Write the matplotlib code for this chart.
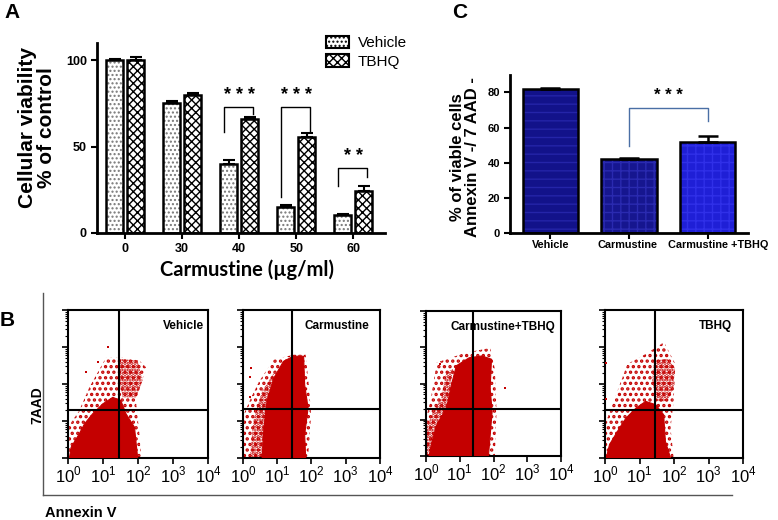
import numpy as np
import matplotlib
matplotlib.use("Agg")
import matplotlib.pyplot as plt
import matplotlib.transforms as mtransforms
from matplotlib.patches import Patch, Polygon
from matplotlib.lines import Line2D
from matplotlib.ticker import LogLocator, NullFormatter

plt.rcParams['font.family'] = ['Liberation Sans', 'DejaVu Sans']
plt.rcParams['mathtext.fontset'] = 'custom'
plt.rcParams['mathtext.rm'] = 'Liberation Sans'
plt.rcParams['hatch.linewidth'] = 1.0

# ---- panel A: viability (% of control) ----
doses = ['0', '30', '40', '50', '60']
veh = [100, 75.5, 40, 15, 10.5]
veh_err = [1, 1, 2, 1, 0.5]
tbhq = [100, 80, 66, 55.5, 24.5]
tbhq_err = [2, 1, 1, 2.5, 2.5]
# significance brackets: group, stars, top, left leg, right leg
sig_group = [2, 3, 4]
sig_text = ['* * *', '* * *', '* *']
sig_top = [73, 73, 37.5]
sig_left = [58.6, 21, 27]
sig_right = [69, 58.6, 32.7]

# ---- panel C: viable cells Annexin V-/7AAD- ----
c_groups = ['Vehicle', 'Carmustine', 'Carmustine +TBHQ']
viable = [82, 42, 52]
viable_err = [0.8, 0.5, 3]

# ---- panel B: flow plots, shapes of the dot clouds in decades (x, y) ----
b_titles = ['Vehicle', 'Carmustine', 'Carmustine+TBHQ', 'TBHQ']
gate_x = [1.47, 1.43, 1.39, 1.44]
gate_y = [1.30, 1.32, 1.30, 1.31]

veh_core = [(0.04, 0), (0.09, 0.29), (0.32, 0.65), (0.47, 0.92), (0.7, 1.19), (0.99, 1.46),
            (1.28, 1.64), (1.51, 1.55), (1.66, 1.19), (1.9, 0.83), (1.99, 0)]
veh_mid = [(1.47, 2.68), (1.99, 2.63), (2.13, 2.09), (1.94, 1.64), (1.56, 1.64), (1.47, 2.09)]
veh_sparse = [(0, 0), (0, 0.83), (0.32, 1.28), (0.61, 1.91), (1.09, 2.72), (1.56, 2.72), (2.04, 2.63),
              (2.23, 2.45), (2.09, 2.0), (1.94, 1.55), (2.04, 0.65), (2.09, 0)]
veh_out = [(0.5, 2.32), (1.13, 2.99), (0.85, 2.6)]

carm_core = [(0.56, 0), (0.61, 0.81), (0.7, 1.53), (0.9, 2.16), (1.18, 2.61), (1.47, 2.75),
             (1.77, 2.75), (1.8, 1.98), (1.9, 1.35), (1.8, 0.63), (1.83, 0)]
carm_mid = [(0.2, 0), (0.3, 1.0), (0.55, 1.8), (0.9, 2.3), (0.9, 1.5), (0.7, 0)]
carm_sparse = [(0.02, 0), (0.02, 1.17), (0.23, 1.62), (0.47, 2.07), (0.9, 2.66), (1.47, 2.79),
               (1.83, 2.79), (1.92, 1.98), (1.99, 1.17), (1.9, 0)]
carm_out = [(0.23, 2.43), (0.19, 1.65), (0.2, 2.2)]

combo_core = [(0.09, 0), (0.18, 0.41), (0.32, 0.86), (0.61, 1.32), (0.75, 1.95), (0.9, 2.49),
              (1.28, 2.71), (1.66, 2.76), (1.94, 2.67), (1.9, 1.86), (1.96, 1.23), (1.85, 0)]
combo_mid = [(0.02, 0), (0.02, 0.8), (0.2, 1.2), (0.45, 1.6), (0.6, 2.3), (0.8, 2.4), (0.6, 1.2), (0.2, 0.3)]
combo_sparse = [(0, 0), (0, 1.05), (0.13, 1.5), (0.32, 2.58), (1.18, 2.85), (1.9, 2.98),
                (2.04, 2.4), (2.09, 1.23), (2.04, 0)]
combo_out = [(2.34, 1.87), (0.4, 2.55)]

tb_core = [(0.04, 0), (0.13, 0.36), (0.42, 0.81), (0.61, 1.08), (0.9, 1.35), (1.18, 1.53),
           (1.47, 1.44), (1.7, 1.17), (1.75, 0.45), (1.9, 0)]
tb_mid = [(1.42, 2.63), (1.8, 2.68), (2.02, 2.45), (1.99, 1.91), (1.8, 1.53), (1.47, 1.53), (1.37, 2.09)]
tb_sparse = [(0, 0), (0, 0.9), (0.32, 1.71), (0.65, 2.54), (1.18, 2.81), (1.71, 3.13),
             (2.04, 2.54), (1.99, 1.53), (1.9, 0.81), (1.99, 0)]
tb_out = [(0.02, 2.56), (0.04, 1.59)]

clouds = [(veh_core, veh_mid, veh_sparse, veh_out),
          (carm_core, carm_mid, carm_sparse, carm_out),
          (combo_core, combo_mid, combo_sparse, combo_out),
          (tb_core, tb_mid, tb_sparse, tb_out)]

RED = '#c40000'

fig = plt.figure(figsize=(7.78, 5.2), dpi=100)

# ================= A =================
axA = fig.add_axes([0.125, 0.552, 0.37, 0.365])
x = np.arange(len(doses))
off, w = 0.185, 0.30
axA.bar(x - off, veh, w, color='white', edgecolor='#777777', hatch='....', linewidth=0, zorder=2)
axA.bar(x - off, veh, w, color='none', edgecolor='black', linewidth=1.8, zorder=3)
axA.bar(x + off, tbhq, w, color='white', edgecolor='black', hatch='xxxx', linewidth=0, zorder=2)
axA.bar(x + off, tbhq, w, color='none', edgecolor='black', linewidth=1.8, zorder=3)
axA.errorbar(x - off, veh, yerr=[np.zeros(len(veh)), veh_err], fmt='none', ecolor='black',
             capsize=4, elinewidth=1.5, capthick=1.5, zorder=4)
axA.errorbar(x + off, tbhq, yerr=[np.zeros(len(tbhq)), tbhq_err], fmt='none', ecolor='black',
             capsize=4, elinewidth=1.5, capthick=1.5, zorder=4)

for g, s, t, l, r in zip(sig_group, sig_text, sig_top, sig_left, sig_right):
    axA.plot([g - 0.27, g - 0.27, g + 0.25, g + 0.25], [l, t, t, r], color='black', lw=1)
    axA.text(g, t + 2, s, ha='center', va='bottom', fontsize=13, fontweight='bold')

axA.set_xlim(-0.49, 4.56)
axA.set_ylim(0, 110)
axA.set_yticks([0, 50, 100])
axA.set_xticks(x)
axA.set_xticklabels(doses)
for lab in axA.get_xticklabels() + axA.get_yticklabels():
    lab.set_fontweight('bold')
    lab.set_fontsize(9)
axA.tick_params(direction='out', length=4, width=1.5)
for sp in ['top', 'right']:
    axA.spines[sp].set_visible(False)
for sp in ['left', 'bottom']:
    axA.spines[sp].set_linewidth(2)

fig.text(37 / 778, 1 - 128 / 520, 'Cellular viability\n% of control', rotation=90,
         ha='center', va='center', fontsize=15, fontweight='bold', linespacing=1.05)
fig.text(247 / 778, 1 - 270 / 520, 'Carmustine (\u00b5g/ml)', ha='center', va='center',
         fontsize=14.5, fontweight='bold', family=['Lato', 'DejaVu Sans'])

leg_handles = [Patch(facecolor='white', edgecolor='black', hatch='....', linewidth=1.5),
               Patch(facecolor='white', edgecolor='black', hatch='xxxx', linewidth=1.5)]
axA.legend(leg_handles, ['Vehicle', 'TBHQ'], loc='upper left', bbox_to_anchor=(318 / 778, 1 - 28 / 520),
           bbox_transform=fig.transFigure, frameon=False, fontsize=11, handlelength=1.5,
           handleheight=0.9, labelspacing=0.25, handletextpad=0.6, borderpad=0)

# ================= C =================
axC = fig.add_axes([0.656, 0.552, 0.305, 0.304])
xc = np.arange(len(c_groups))
c_face = ['#12128a', '#16168f', '#1f1fd6']
c_hatch = ['--', '++', '++']
c_hcol = ['#2424a8', '#2a2ab0', '#3030e8']
for i in range(len(xc)):
    axC.bar(xc[i], viable[i], 0.7, color=c_face[i], edgecolor=c_hcol[i], hatch=c_hatch[i],
            linewidth=0, zorder=2)
axC.bar(xc, viable, 0.7, color='none', edgecolor='black', linewidth=1.8, zorder=3)
axC.errorbar(xc, viable, yerr=[np.zeros(len(viable)), viable_err], fmt='none', ecolor='black',
             capsize=7, elinewidth=1.8, capthick=1.8, zorder=4)
axC.plot([1, 1, 2, 2], [49.5, 71.4, 71.4, 63.8], color='#4a6fa5', lw=1)
axC.text(1.5, 74, '* * *', ha='center', va='bottom', fontsize=12, fontweight='bold')
axC.set_xlim(-0.506, 2.506)
axC.set_ylim(0, 90)
axC.set_yticks([0, 20, 40, 60, 80])
axC.set_xticks(xc)
axC.set_xticklabels([])
for lab in axC.get_yticklabels():
    lab.set_fontweight('bold')
    lab.set_fontsize(8)
# category names drawn by hand: the last one sits a bit to the right in the original
lab_shift = [0, -0.02, 0.13]
lab_tr = mtransforms.blended_transform_factory(axC.transData, axC.transAxes)
for i, name in enumerate(c_groups):
    axC.text(xc[i] + lab_shift[i], -0.045, name, transform=lab_tr, ha='center', va='top',
             fontsize=7.8, fontweight='bold', clip_on=False)
axC.tick_params(direction='out', length=4, width=1.5)
for sp in ['top', 'right']:
    axC.spines[sp].set_visible(False)
for sp in ['left', 'bottom']:
    axC.spines[sp].set_linewidth(2)
fig.text(465 / 778, 1 - 157 / 520, '% of viable cells\nAnnexin V -/ 7 AAD -', rotation=90,
         ha='center', va='center', fontsize=12, fontweight='bold', linespacing=1.0)

# ================= B =================
b_rects = [[68 / 778, 1 - 458 / 520, 140 / 778, 148 / 520],
           [243 / 778, 1 - 458 / 520, 137 / 778, 148 / 520],
           [426 / 778, 1 - 456 / 520, 135 / 778, 145 / 520],
           [605 / 778, 1 - 458 / 520, 138 / 778, 148 / 520]]
title_pos = [(0.97, 'right'), (0.45, 'left'), (0.18, 'left'), (0.92, 'right')]

for k in range(4):
    ax = fig.add_axes(b_rects[k])
    ax.set_xscale('log')
    ax.set_yscale('log')
    ax.set_xlim(1, 1e4)
    ax.set_ylim(1, 1e4)
    core, mid, sparse, out = clouds[k]
    with plt.rc_context({'hatch.linewidth': 1.6}):
        sp = np.power(10.0, np.array(sparse))
        ax.add_patch(Polygon(sp, closed=True, facecolor='none', edgecolor=RED, hatch='...',
                             linewidth=0, zorder=1))
        md = np.power(10.0, np.array(mid))
        ax.add_patch(Polygon(md, closed=True, facecolor='none', edgecolor=RED, hatch='.....',
                             linewidth=0, zorder=2))
    cr = np.power(10.0, np.array(core))
    ax.add_patch(Polygon(cr, closed=True, facecolor=RED, edgecolor=RED, linewidth=0.8, zorder=3))
    ou = np.power(10.0, np.array(out))
    ax.scatter(ou[:, 0], ou[:, 1], s=3, color=RED, marker='s', linewidths=0, zorder=3)

    ax.axvline(10 ** gate_x[k], color='black', lw=1.5, zorder=5)
    ax.axhline(10 ** gate_y[k], color='black', lw=1.5, zorder=5)

    ax.set_xticks([1, 10, 100, 1000, 10000])
    ax.set_xticklabels([r'$10^0$', r'$10^1$', r'$10^2$', r'$10^3$', r'$10^4$'], fontsize=12)
    ax.set_yticks([1, 10, 100, 1000, 10000])
    ax.set_yticklabels([])
    ax.xaxis.set_minor_locator(LogLocator(base=10, subs=np.arange(2, 10)))
    ax.yaxis.set_minor_locator(LogLocator(base=10, subs=np.arange(2, 10)))
    ax.xaxis.set_minor_formatter(NullFormatter())
    ax.yaxis.set_minor_formatter(NullFormatter())
    ax.tick_params(which='major', direction='out', length=4, width=1.2, pad=1)
    ax.tick_params(which='minor', direction='out', length=2, width=0.8)
    for s in ax.spines.values():
        s.set_linewidth(1.5)
    tx, ha = title_pos[k]
    ax.text(tx, 0.93, b_titles[k], transform=ax.transAxes, ha=ha, va='top',
            fontsize=8.5, fontweight='bold', zorder=6)

# frame around B and its labels
fig.add_artist(Line2D([43 / 778, 43 / 778], [1 - 293 / 520, 1 - 495 / 520], color='#555555', lw=1))
fig.add_artist(Line2D([43 / 778, 732 / 778], [1 - 495 / 520, 1 - 495 / 520], color='#555555', lw=1))
fig.text(37 / 778, 1 - 405 / 520, '7AAD', rotation=90, ha='center', va='center',
         fontsize=10, fontweight='bold')
fig.text(45 / 778, 1 - 513 / 520, 'Annexin V', ha='left', va='center', fontsize=10.5, fontweight='bold')

# panel letters
fig.text(4 / 778, 1 - 12 / 520, 'A', ha='left', va='center', fontsize=15, fontweight='bold')
fig.text(0 / 778, 1 - 320 / 520, 'B', ha='left', va='center', fontsize=15, fontweight='bold')
fig.text(452 / 778, 1 - 12 / 520, 'C', ha='left', va='center', fontsize=15, fontweight='bold')

fig.savefig('out.png', dpi=100)
